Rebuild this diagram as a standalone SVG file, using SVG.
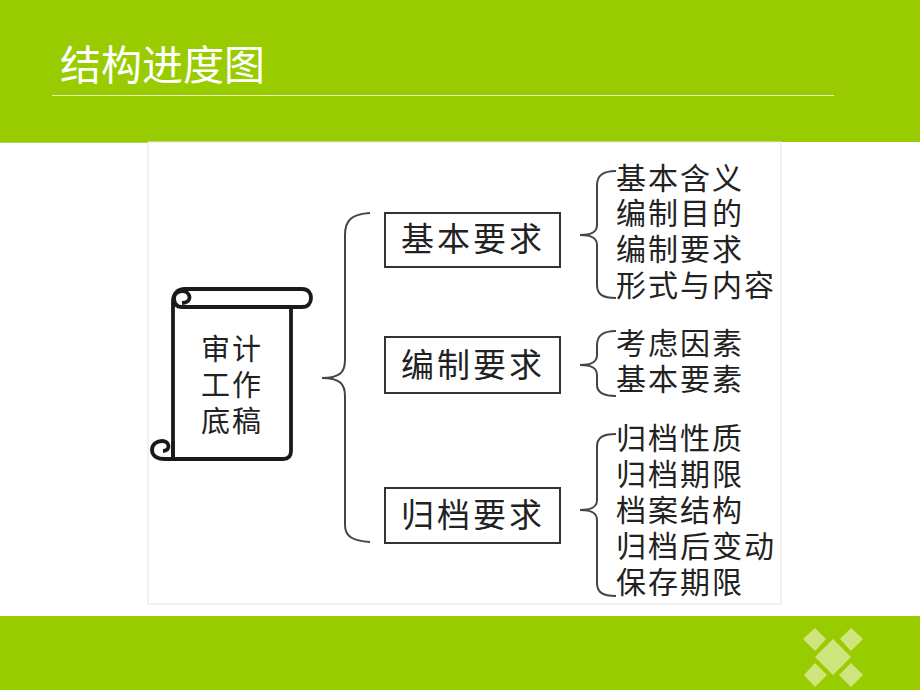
<svg xmlns="http://www.w3.org/2000/svg" width="920" height="690" viewBox="0 0 920 690">
<style>
text{font-family:"Liberation Sans","Noto Sans CJK SC",sans-serif}
.t{font-size:33px;fill:#222;letter-spacing:3px}
.s{font-size:30px;fill:#222;letter-spacing:2px}
.m{font-size:29px;fill:#222;letter-spacing:2px}
.b{fill:#fff;stroke:#333;stroke-width:2}
.c{fill:none;stroke:#444;stroke-width:2}
.k{fill:none;stroke:#1a1a1a;stroke-width:3.8}
.d{fill:#cfe67f}
</style>
<rect width="920" height="690" fill="#fff"/>
<rect width="920" height="142" fill="#99cc00"/>
<rect y="616" width="920" height="74" fill="#99cc00"/>
<rect x="148" y="142" width="633" height="462" fill="#fff" stroke="#e4e4e4" stroke-width="1"/>
<rect x="0" y="142" width="148" height="1" fill="#b5d94a"/>
<text x="60" y="80" font-size="41" fill="#fff">结构进度图</text>
<rect x="52" y="95" width="782" height="1" fill="#e6f2b8"/>
<g id="deco">
<polygon class="d" points="815,628 826,639 815,651 803,639"/>
<polygon class="d" points="851,628 863,639 851,651 840,639"/>
<polygon class="d" points="833,639 851,657 833,675 815,657"/>
<polygon class="d" points="815,663 827,675 815,687 804,675"/>
<polygon class="d" points="851,663 863,675 851,687 839,675"/>
</g>
<g id="root">
<path class="k" d="M173,302V459 M173,459H283Q291,459 291,451V307"/>
<path class="k" d="M173,441V459H165C156,459 152,455 152,450C152,444 157,441 162,441C170,441 171,451 163,451"/>
<path class="k" d="M173,302C173,293 178,289 185,289H302C308,289 311,293 311,298C311,303 308,307 302,307H182C176,307 174,303 174,298C174,294 178,291 182,291C191,291 193,303 182,303"/>
<text class="m" x="201" y="360">审计</text>
<text class="m" x="201" y="396">工作</text>
<text class="m" x="201" y="432">底稿</text>
</g>
<g id="connectors">
<path class="c" d="M322,378C340,378 345,372 345,360V235C345,220 352,214 370,213M322,378C340,378 345,384 345,396V525C345,536 352,541 370,542"/>
<path class="c" d="M580,235C592,235 597,232 597,225V185C597,176 602,171 616,171M580,235C592,235 597,238 597,245V285C597,294 602,298 616,298"/>
<path class="c" d="M580,365C592,365 597,362 597,355V345C597,336 602,331 616,331M580,365C592,365 597,368 597,375V385C597,392 602,396 616,396"/>
<path class="c" d="M580,510C592,510 597,507 597,500V447C597,438 602,434 616,434M580,510C592,510 597,513 597,520V583C597,592 602,596 616,596"/>
</g>
<g id="n1"><rect class="b" x="385" y="213" width="175" height="54"/><text class="t" x="401" y="251">基本要求</text></g>
<g id="n2"><rect class="b" x="385" y="337" width="175" height="56"/><text class="t" x="401" y="377">编制要求</text></g>
<g id="n3"><rect class="b" x="385" y="488" width="175" height="55"/><text class="t" x="401" y="527">归档要求</text></g>
<g id="l1">
<text class="s" x="616" y="189">基本含义</text>
<text class="s" x="616" y="224">编制目的</text>
<text class="s" x="616" y="260">编制要求</text>
<text class="s" x="616" y="296">形式与内容</text>
</g>
<g id="l2">
<text class="s" x="616" y="354">考虑因素</text>
<text class="s" x="616" y="390">基本要素</text>
</g>
<g id="l3">
<text class="s" x="616" y="449">归档性质</text>
<text class="s" x="616" y="485">归档期限</text>
<text class="s" x="616" y="521">档案结构</text>
<text class="s" x="616" y="557">归档后变动</text>
<text class="s" x="616" y="593">保存期限</text>
</g>
</svg>
